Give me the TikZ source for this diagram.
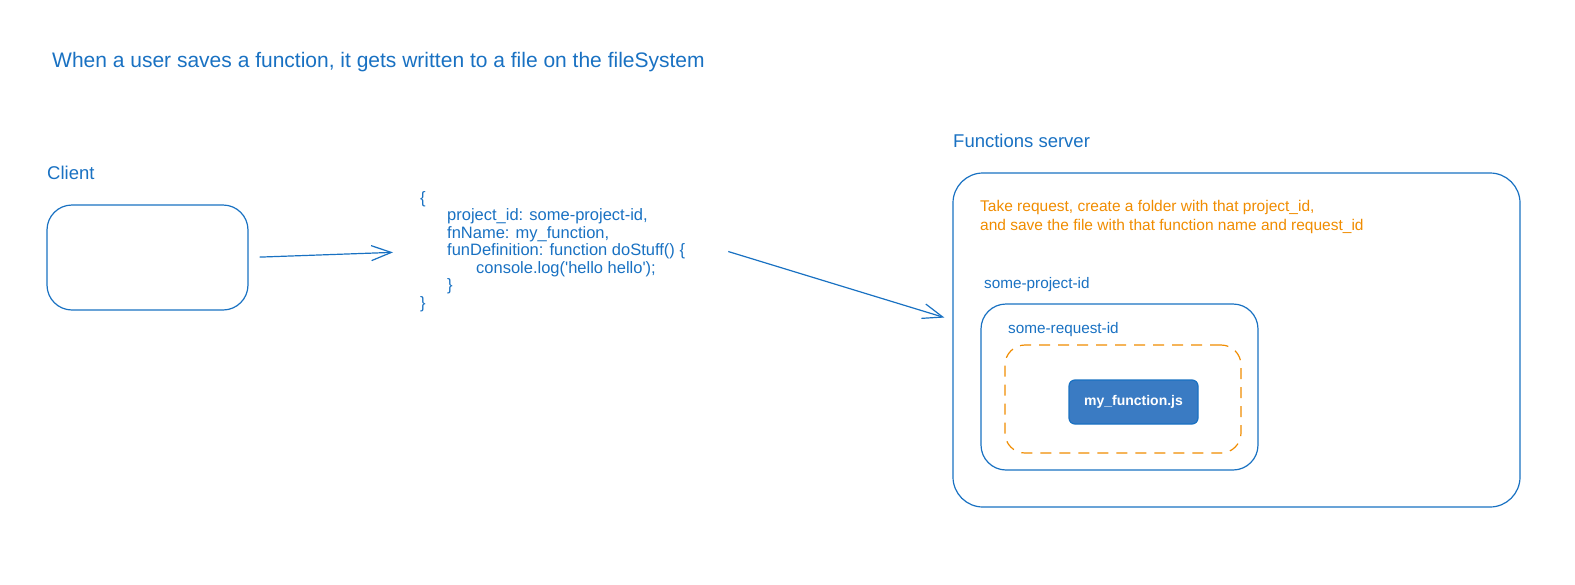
\documentclass[tikz,border=0pt]{standalone}
\usepackage{fontspec}
\setmainfont{Liberation Sans}
\usetikzlibrary{arrows.meta}
\definecolor{sketchblue}{HTML}{1971C2}
\definecolor{sketchorange}{HTML}{F08C00}
\definecolor{filefill}{HTML}{3A7BC3}

\begin{document}
\begin{tikzpicture}[x=1pt,y=-1pt,
    box/.style={draw=sketchblue,line width=1.2pt,rounded corners=#1,inner sep=0pt},
    box/.default=25pt,
    dashbox/.style={draw=sketchorange,line width=1.2pt,dash pattern=on 11pt off 8pt,rounded corners=20pt,inner sep=0pt},
    heading/.style={text=sketchblue,font=\fontsize{18.5}{22}\selectfont,anchor=west,inner sep=0pt},
    small/.style={text=sketchblue,font=\fontsize{15.3}{17.5}\selectfont,anchor=west,inner sep=0pt},
    flow/.style={draw=sketchblue,line width=1.2pt,-{Straight Barb[length=20pt,width=15pt,line width=1.2pt]}}]
    \useasboundingbox (0,0) rectangle (1575,584);
    \node[heading,font=\fontsize{21}{24}\selectfont] (title) at (52,62) {When a user saves a function, it gets written to a file on the fileSystem};
    % client side
    \node[heading] (clientlbl) at (47,173) {Client};
    \node[box,minimum width=201pt,minimum height=105pt] (client) at (147.5,257.5) {};
    \node[small,anchor=north west,align=left,font=\fontsize{16.5}{17.5}\selectfont] (payload) at (420,191) {%
      \{\\
      \hspace*{27pt}project\_id: some-project-id,\\
      \hspace*{27pt}fnName: my\_function,\\
      \hspace*{27pt}funDefinition: function doStuff() \{\\
      \hspace*{56pt}console.log(\textquotesingle hello hello\textquotesingle);\\
      \hspace*{27pt}\}\\
      \}};
    % server side
    \node[heading] (serverlbl) at (953,141) {Functions server};
    \node[box=30pt,minimum width=567pt,minimum height=334pt] (server) at (1236.5,340) {};
    \node[small,text=sketchorange,anchor=north west,align=left,font=\fontsize{15.5}{19}\selectfont] (note) at (980,200)
      {Take request, create a folder with that project\_id,\\and save the file with that function name and request\_id};
    \node[small] (projectlbl) at (984,285) {some-project-id};
    \node[box,minimum width=277pt,minimum height=166pt] (project) at (1119.5,387) {};
    \node[small] (requestlbl) at (1008,330) {some-request-id};
    \node[dashbox,minimum width=236pt,minimum height=108pt] (request) at (1123,399) {};
    \node[box=6pt,fill=filefill,text=white,font=\fontsize{14}{17}\bfseries,minimum width=129pt,minimum height=44pt] (file) at (1133.5,402) {my\_function.js};
    % arrows
    \draw[flow,shorten <=11pt,shorten >=27pt] (client.east) -- (payload.west);
    \draw[flow,shorten <=45pt,shorten >=8.4pt] ([yshift=13pt]payload.east) -- ([yshift=20pt]server.west);
\end{tikzpicture}
\end{document}
